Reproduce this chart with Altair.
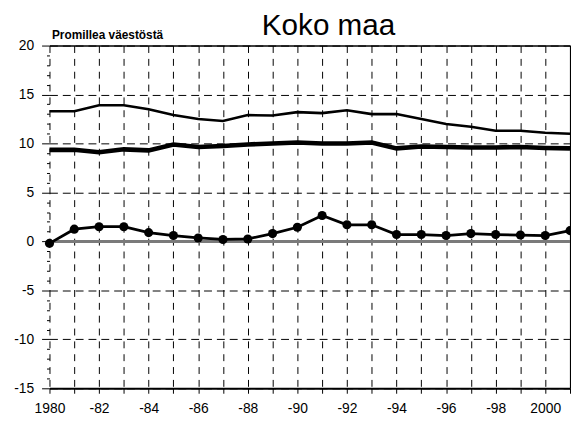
import altair as alt
import pandas as pd

years = list(range(1980, 2002))
births = [13.3, 13.3, 13.9, 13.9, 13.5, 12.9, 12.5, 12.3, 12.9, 12.85, 13.2,
          13.1, 13.4, 13.0, 13.0, 12.5, 12.0, 11.7, 11.3, 11.3, 11.1, 11.0]
deaths = [9.35, 9.35, 9.1, 9.4, 9.3, 9.9, 9.65, 9.75, 9.9, 10.0, 10.1,
          10.0, 10.0, 10.1, 9.5, 9.7, 9.65, 9.6, 9.6, 9.65, 9.55, 9.5]
net = [-0.2, 1.25, 1.5, 1.5, 0.9, 0.6, 0.35, 0.2, 0.25, 0.8, 1.45,
       2.65, 1.7, 1.7, 0.7, 0.7, 0.6, 0.8, 0.7, 0.65, 0.6, 1.1]

x_label_years = [1980, 1982, 1984, 1986, 1988, 1990, 1992, 1994, 1996, 1998, 2000]
x_tick_labels = ["1980", "-82", "-84", "-86", "-88", "-90", "-92", "-94", "-96", "-98", "2000"]
y_label_values = [-15, -10, -5, 0, 5, 10, 15, 20]
y_tick_labels = ["-15", "-10", "-5", "0", "5", "10", "15", "20"]
y_minor_values = list(range(-15, 21))

title_text = "Koko maa"
unit_text = "Promillea väestöstä"

df = pd.DataFrame({"year": years, "births": births, "deaths": deaths, "net": net})

# label lookup arrays for the axes
x_map = dict(zip(x_label_years, x_tick_labels))
x_arr = "[" + ",".join("'" + x_map.get(y, "") + "'" for y in years) + "]"
x_label_expr = x_arr + "[round(datum.value) - " + str(years[0]) + "]"

y_map = dict(zip(y_label_values, y_tick_labels))
y_arr = "[" + ",".join("'" + y_map.get(v, "") + "'" for v in y_minor_values) + "]"
y_label_expr = y_arr + "[round(datum.value) - (" + str(y_minor_values[0]) + ")]"
major_test = "round(datum.value) % 5 === 0"

FONT = "Liberation Sans"

xscale = alt.Scale(domain=[years[0], years[-1]], nice=False, zero=False)
yscale = alt.Scale(domain=[-15, 20], nice=False, zero=False)

x_main_axis = alt.Axis(
    values=years, labelExpr=x_label_expr, format="d",
    grid=True, gridDash=[7, 6], gridColor="black", gridWidth=1, gridOpacity=1,
    domain=True, domainColor="black", domainWidth=2,
    ticks=True, tickSize=5, tickColor="black", tickWidth=1,
    labelFont=FONT, labelFontSize=14, labelColor="black", labelPadding=9,
    labelFlush=False, labelOverlap=False, title="",
)
y_main_axis = alt.Axis(
    values=y_minor_values, labelExpr=y_label_expr,
    grid=True, gridDash=[8, 5], gridColor="black", gridWidth=1,
    gridOpacity={"condition": {"test": major_test, "value": 1}, "value": 0},
    domain=False,
    ticks=True, tickColor="black", tickWidth=1,
    tickSize={"condition": {"test": major_test, "value": 8}, "value": 3},
    labelFont=FONT, labelFontSize=14, labelColor="black", labelPadding=8,
    labelOverlap=False,
    title=unit_text, titleAngle=0, titleAlign="left", titleBaseline="alphabetic",
    titleX=2, titleY=-7, titleFont=FONT, titleFontSize=12,
    titleFontWeight="bold", titleColor="black",
)
x_top_axis = alt.Axis(orient="top", labels=False, ticks=False, grid=False,
                      domain=True, domainColor="black", domainWidth=1.5, title="")
y_right_axis = alt.Axis(orient="right", labels=False, ticks=False, grid=False,
                        domain=True, domainColor="black", domainWidth=1.2, title="")

base = alt.Chart(df)

zero_rule = base.mark_rule(color="#7a7a7a", strokeWidth=2).encode(
    y=alt.YDatum(0, scale=yscale, axis=None)
)

births_line = base.mark_line(color="black", strokeWidth=2.6).encode(
    x=alt.X("year:Q", scale=xscale, axis=x_main_axis),
    y=alt.Y("births:Q", scale=yscale, axis=y_main_axis),
)

deaths_line = base.mark_line(color="black", strokeWidth=4.6).encode(
    x=alt.X("year:Q", scale=xscale, axis=x_top_axis),
    y=alt.Y("deaths:Q", scale=yscale, axis=y_right_axis),
)

net_line = base.mark_line(
    color="black", strokeWidth=2.8,
    point=alt.OverlayMarkDef(filled=True, size=85, color="black", opacity=1),
).encode(
    x=alt.X("year:Q", scale=xscale, axis=None),
    y=alt.Y("net:Q", scale=yscale, axis=None),
)

chart = (
    alt.layer(zero_rule, births_line, deaths_line, net_line)
    .resolve_axis(x="independent", y="independent")
    .properties(
        width=527,
        height=347,
        autosize=alt.AutoSizeParams(type="none"),
        padding={"left": 42, "top": 35.5, "right": 1, "bottom": 25},
        title=alt.TitleParams(
            text=title_text, font=FONT, fontSize=30, fontWeight="normal",
            color="black", anchor="middle", dx=19, dy=14, offset=2,
        ),
        background="white",
    )
    .configure_view(strokeWidth=0)
)

chart.save("out.html", embed_options={"renderer": "svg", "actions": False})
